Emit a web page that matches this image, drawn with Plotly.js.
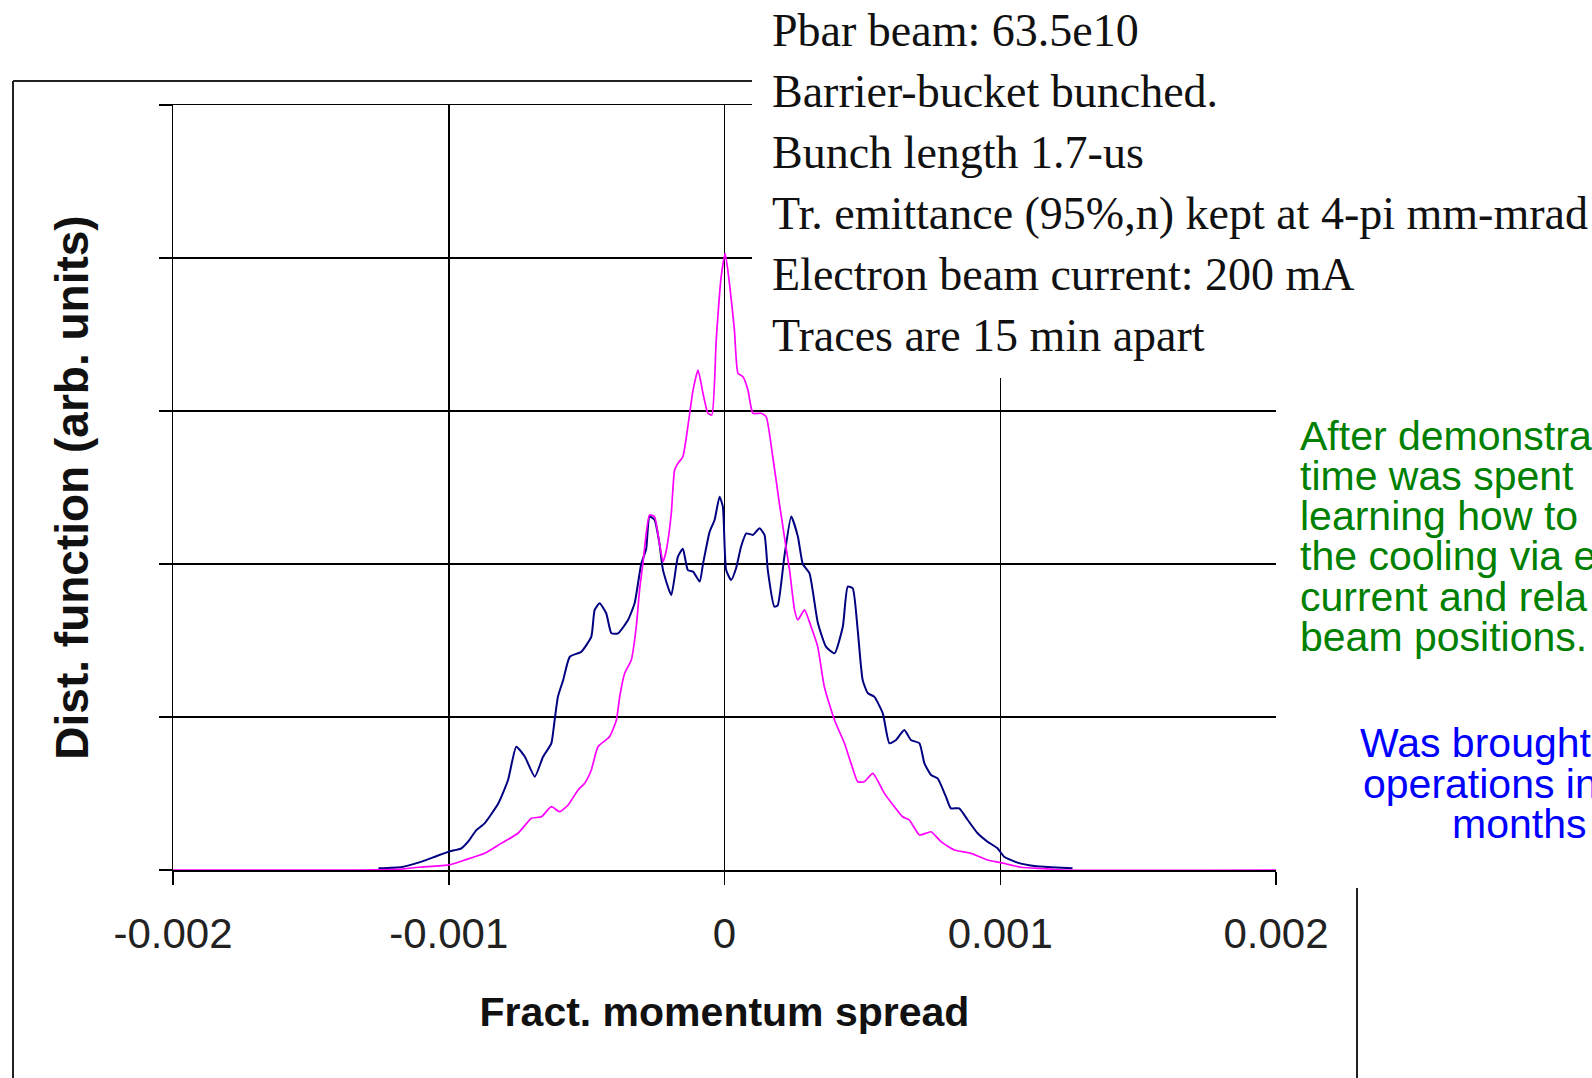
<!DOCTYPE html>
<html>
<head>
<meta charset="utf-8">
<script src="https://cdn.plot.ly/plotly-3.0.1.min.js"></script>
<style>
html,body{margin:0;padding:0;background:#fff;overflow:hidden}
#chart{width:1592px;height:1078px}
</style>
</head>
<body>
<div id="chart"></div>
<script>
// ---------------- data ----------------
const xTickVals = [-0.002, -0.001, 0, 0.001, 0.002];
const xTickText = ["-0.002", "-0.001", "0", "0.001", "0.002"];
const yGridVals = [0, 1, 2, 3, 4, 5];

const xTitle = "Fract. momentum spread";
const yTitle = "Dist. function (arb. units)";

// first trace (broader, navy)
const firstX = [
  -0.001255, -0.00117, -0.00111, -0.00105, -0.001, -0.000954, -0.00093, -0.0009, -0.00087, -0.00082,
  -0.000785, -0.000755, -0.000724, -0.000688, -0.000658, -0.000628, -0.000616, -0.000604, -0.000585, -0.000561,
  -0.000519, -0.000483, -0.000471, -0.000453, -0.000429, -0.00041, -0.000386, -0.00035, -0.000326, -0.000302,
  -0.000284, -0.000272, -0.000254, -0.000236, -0.000223, -0.000193, -0.000169, -0.000151, -0.000133, -0.000114,
  -0.00009, -0.000078, -0.000054, -0.000036, -0.000018, -0.000006, 0.000006, 0.000024, 0.000042, 0.00006,
  0.000079, 0.000103, 0.000127, 0.000145, 0.000157, 0.000181, 0.000193, 0.000217, 0.000242, 0.000266,
  0.000284, 0.000308, 0.000338, 0.000368, 0.000399, 0.000429, 0.000447, 0.000465, 0.000483, 0.000501,
  0.00052, 0.000543, 0.000574, 0.000598, 0.000622, 0.000652, 0.000676, 0.000707, 0.000725, 0.000749,
  0.000773, 0.000803, 0.000821, 0.000851, 0.000882, 0.000918, 0.000954, 0.00099, 0.001014, 0.001063,
  0.001123, 0.001184, 0.001262
];
const firstY = [
  0.011, 0.02, 0.048, 0.087, 0.12, 0.142, 0.185, 0.261, 0.305, 0.436,
  0.588, 0.806, 0.74, 0.61, 0.74, 0.828, 0.98, 1.133, 1.242, 1.394,
  1.427, 1.525, 1.699, 1.743, 1.678, 1.547, 1.547, 1.634, 1.743, 2.0,
  2.1, 2.31, 2.29, 2.135, 1.96, 1.797, 2.048, 2.10, 1.96, 1.95,
  1.885, 2.0, 2.21, 2.288, 2.44, 2.375, 1.96, 1.895, 1.972, 2.113,
  2.2, 2.19, 2.233, 2.19, 1.96, 1.721, 1.73, 2.048, 2.31, 2.18,
  2.0, 1.94, 1.62, 1.46, 1.416, 1.59, 1.852, 1.841, 1.569, 1.242,
  1.155, 1.133, 1.024, 0.828, 0.85, 0.915, 0.85, 0.828, 0.697, 0.621,
  0.599, 0.479, 0.403, 0.403, 0.327, 0.24, 0.185, 0.142, 0.087, 0.048,
  0.026, 0.018, 0.011
];

// second trace, 15 min later (narrower, magenta)
const secondX = [
  -0.002, -0.00135, -0.001183, -0.00111, -0.001, -0.000942, -0.00087, -0.00081, -0.000749, -0.0007,
  -0.000664, -0.000628, -0.000598, -0.000567, -0.000531, -0.000507, -0.000483, -0.000459, -0.000417, -0.000392,
  -0.00038, -0.000362, -0.000338, -0.00032, -0.000308, -0.000296, -0.000272, -0.000254, -0.000236, -0.000223,
  -0.000211, -0.000193, -0.000181, -0.000169, -0.000151, -0.000133, -0.000114, -0.000096, -0.000078, -0.00006,
  -0.000046, -0.00003, -0.000012, 0.0000025, 0.000018, 0.000036, 0.000049, 0.000067, 0.000085, 0.000103,
  0.000133, 0.000151, 0.000175, 0.000199, 0.000217, 0.000236, 0.000254, 0.000266, 0.00029, 0.000314,
  0.000338, 0.000362, 0.000399, 0.000435, 0.000459, 0.000483, 0.000507, 0.000538, 0.00058, 0.000616,
  0.000646, 0.00067, 0.000707, 0.000749, 0.000785, 0.000833, 0.000894, 0.000954, 0.001002, 0.001075,
  0.00116, 0.001232, 0.002
];
const secondY = [
  0, 0, 0.004, 0.018, 0.033, 0.065, 0.109, 0.174, 0.24, 0.338,
  0.348, 0.414, 0.381, 0.425, 0.523, 0.567, 0.654, 0.806, 0.871, 0.98,
  1.133, 1.286, 1.373, 1.59, 1.83, 2.0, 2.32, 2.31, 2.135, 2.015,
  2.09, 2.33, 2.614, 2.658, 2.701, 2.897, 3.137, 3.268, 3.115, 2.985,
  2.974, 3.464, 3.878, 4.03, 3.834, 3.529, 3.246, 3.224, 3.137, 2.985,
  2.985, 2.963, 2.701, 2.397, 2.18, 1.96, 1.70, 1.634, 1.70, 1.59,
  1.46, 1.198, 0.98, 0.828, 0.697, 0.577, 0.577, 0.632, 0.501, 0.414,
  0.348, 0.327, 0.229, 0.25, 0.185, 0.131, 0.109, 0.065, 0.048, 0.018,
  0.009, 0, 0
];

const noteLines = [
  "Pbar beam: 63.5e10",
  "Barrier-bucket bunched.",
  "Bunch length 1.7-us",
  "Tr. emittance (95%,n) kept at 4-pi mm-mrad",
  "Electron beam current: 200 mA",
  "Traces are 15 min apart"
];
const greenLines = [
  "After demonstra",
  "time was spent",
  "learning how to",
  "the cooling via e",
  "current and rela",
  "beam positions."
];
const blueLines = [
  "Was brought",
  "operations in",
  "months"
];

// ---------------- layout geometry (pixels) ----------------
const W = 1592, H = 1078;
const PL = 173, PR = 1276, PT = 105, PB = 870;
const px = x => (x - PL) / (PR - PL);
const py = y => (PB - y) / (PB - PT);

const SERIF = "Liberation Serif, Times New Roman, serif";
const SANS = "Liberation Sans, Arial, sans-serif";

const noteBase = [46, 107, 168, 229, 290, 351];
const greenBase = [450, 490.2, 530.4, 570.6, 610.8, 651];
const blueBase = [757.4, 798.4, 838.5];
const blueLeft = [1358, 1361, 1450];

const annotations = [];
noteLines.forEach((t, i) => annotations.push({
  xref: "paper", yref: "paper", x: px(770), y: py(noteBase[i] - 15.5),
  xanchor: "left", yanchor: "middle", showarrow: false, text: t,
  font: {family: SERIF, size: 46, color: "#111"}
}));
greenLines.forEach((t, i) => annotations.push({
  xref: "paper", yref: "paper", x: px(1298), y: py(greenBase[i] - 14.2),
  xanchor: "left", yanchor: "middle", showarrow: false, text: t,
  font: {family: SANS, size: 41, color: "#008000"}
}));
blueLines.forEach((t, i) => annotations.push({
  xref: "paper", yref: "paper", x: px(blueLeft[i]), y: py(blueBase[i] - 14.2),
  xanchor: "left", yanchor: "middle", showarrow: false, text: t,
  font: {family: SANS, size: 41, color: "#0000ff"}
}));

const frame = {color: "#222", width: 2};
const shapes = [
  // chart-area frame
  {type: "line", xref: "paper", yref: "paper", x0: px(13), x1: px(13), y0: py(81), y1: py(1100), line: frame},
  {type: "line", xref: "paper", yref: "paper", x0: px(13), x1: px(752), y0: py(81), y1: py(81), line: frame},
  {type: "line", xref: "paper", yref: "paper", x0: px(1357), x1: px(1357), y0: py(888), y1: py(1100), line: frame},
  // white background of the text box that overlaps the chart
  {type: "rect", xref: "paper", yref: "paper", x0: px(752), x1: px(1620), y0: py(378), y1: py(-20),
   fillcolor: "#fff", line: {width: 0}, layer: "above"}
];

const traces = [
  {type: "scatter", mode: "lines", name: "Trace 1", x: firstX, y: firstY,
   line: {color: "#000080", width: 2, shape: "spline", smoothing: 0.5}, hoverinfo: "skip"},
  {type: "scatter", mode: "lines", name: "Trace 2 (15 min later)", x: secondX, y: secondY,
   line: {color: "#ff00ff", width: 1.7, shape: "spline", smoothing: 0.5}, hoverinfo: "skip"}
];

const layout = {
  width: W, height: H,
  margin: {l: PL, r: W - PR, t: PT, b: H - PB, pad: 0},
  paper_bgcolor: "#fff", plot_bgcolor: "#fff",
  showlegend: false,
  xaxis: {
    range: [-0.002, 0.002], tickmode: "array", tickvals: xTickVals, ticktext: xTickText,
    showgrid: true, gridcolor: "#000", gridwidth: 1.5, zeroline: false,
    showline: true, linecolor: "#000", linewidth: 1.5, mirror: true,
    ticks: "outside", ticklen: 13, tickwidth: 1.5, tickcolor: "#000",
    ticklabelstandoff: 13,
    tickfont: {family: SANS, size: 42, color: "#222"},
    layer: "below traces", automargin: false,
    title: {text: "<b>" + xTitle + "</b>", font: {family: SANS, size: 41, color: "#111"}, standoff: 41}
  },
  yaxis: {
    range: [0, 5], tickmode: "array", tickvals: yGridVals, showticklabels: false,
    showgrid: true, gridcolor: "#000", gridwidth: 1.5, zeroline: false,
    showline: true, linecolor: "#000", linewidth: 1.5,
    ticks: "outside", ticklen: 13, tickwidth: 1.5, tickcolor: "#000",
    layer: "below traces", automargin: false,
    title: {text: "<b>" + yTitle + "</b>", font: {family: SANS, size: 46, color: "#111"}, standoff: 55}
  },
  annotations: annotations,
  shapes: shapes
};

Plotly.newPlot("chart", traces, layout, {displayModeBar: false, staticPlot: true});
</script>
</body>
</html>
